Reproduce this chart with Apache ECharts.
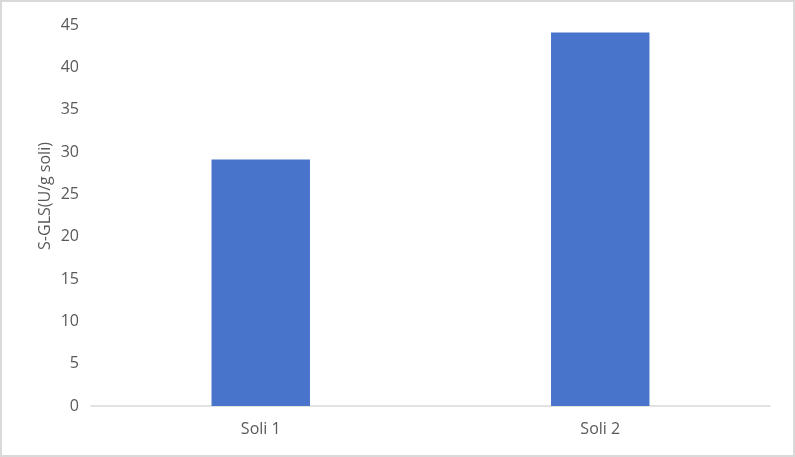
<!DOCTYPE html>
<html><head><meta charset="utf-8">
<script src="https://cdn.jsdelivr.net/npm/echarts@6/dist/echarts.min.js"></script>
<style>html,body{margin:0;padding:0;background:#fff}#c{width:795px;height:457px;box-sizing:border-box;border:2px solid #d9d9d9;}</style>
</head><body><div id="c"></div>
<script>
const categories = ['Soli 1', 'Soli 2'];
const values = [29.1, 44.1];
const yTitle = 'S-GLS(U/g soli)';
const FONT = 'Open Sans, Noto Sans, sans-serif';
const chart = echarts.init(document.getElementById('c'));
chart.setOption({
  animation: false,
  grid: {left: 89, right: 23, top: 23, bottom: 49},
  graphic: [{
    type: 'text', x: 43, y: 194, rotation: Math.PI / 2,
    style: {text: yTitle, fill: '#595959', font: '16px ' + FONT, align: 'center', verticalAlign: 'middle'}
  }],
  xAxis: {
    type: 'category', data: categories,
    axisLine: {lineStyle: {color: '#d9d9d9', width: 1.5}},
    axisTick: {show: false},
    axisLabel: {color: '#595959', fontSize: 16, fontFamily: FONT, margin: 15}
  },
  yAxis: {
    type: 'value', min: 0, max: 45, interval: 5,
    splitLine: {show: false},
    axisLine: {show: false}, axisTick: {show: false},
    axisLabel: {color: '#595959', fontSize: 16, fontFamily: FONT, margin: 12}
  },
  series: [{type: 'bar', data: values, barWidth: '29%', itemStyle: {color: '#4874CB'}}]
});
</script></body></html>
